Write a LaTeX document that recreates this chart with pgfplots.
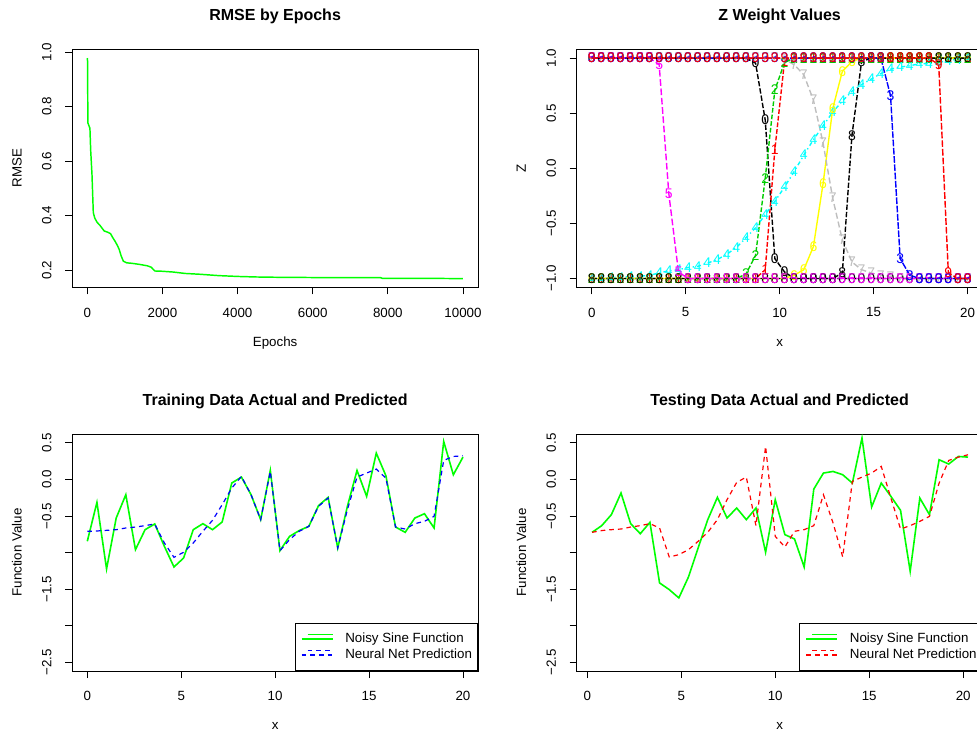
\documentclass[border=0pt]{standalone}
\usepackage{fontspec}
\setmainfont{Liberation Sans}
\usepackage{pgfplots}
\usepackage{pgfplotstable}
\pgfplotsset{compat=1.18}
\definecolor{rgreen}{HTML}{00FF00}
\definecolor{green3}{HTML}{00CD00}
\definecolor{rgray}{HTML}{BEBEBE}
\definecolor{rcyan}{HTML}{00FFFF}
\definecolor{rmag}{HTML}{FF00FF}
\definecolor{ryel}{HTML}{FFFF00}

\pgfplotstableread{
x z0 z1 z2 z3 z4 z5 z6 z7 z8 z9
0.0000 1 -1 -1 1 -1.00 1 -1 1 -1 1
0.5128 1 -1 -1 1 -1.00 1 -1 1 -1 1
1.0256 1 -1 -1 1 -0.99 1 -1 1 -1 1
1.5385 1 -1 -1 1 -0.99 1 -1 1 -1 1
2.0513 1 -1 -1 1 -0.98 1 -1 1 -1 1
2.5641 1 -1 -1 1 -0.98 1 -1 1 -1 1
3.0769 1 -1 -1 1 -0.97 1 -1 1 -1 1
3.5897 1 -1 -1 1 -0.95 0.94 -1 1 -1 1
4.1026 1 -1 -1 1 -0.93 -0.23 -1 1 -1 1
4.6154 1 -1 -1 1 -0.92 -0.94 -1 1 -1 1
5.1282 1 -1 -1 1 -0.90 -1 -1 1 -1 1
5.6410 1 -1 -1 1 -0.89 -1 -1 1 -1 1
6.1538 1 -1 -1 1 -0.86 -1 -1 1 -1 1
6.6667 1 -1 -1 1 -0.83 -1 -1 1 -1 1
7.1795 1 -1 -1 1 -0.78 -1 -1 1 -1 1
7.6923 1 -1 -1 1 -0.72 -1 -1 1 -1 1
8.2051 1 -1 -0.96 1 -0.63 -1 -1 1 -1 1
8.7179 0.955 -1 -0.79 1 -0.54 -1 -1 1 -1 1
9.2308 0.44 -0.92 -0.09 1 -0.42 -1 -1 1 -1 1
9.7436 -0.82 0.17 0.71 1 -0.30 -1 -1 1 -1 1
10.2564 -0.94 0.97 0.96 1 -0.17 -1 -1 0.99 -1 1
10.7692 -1 1 1 1 -0.03 -1 -0.97 0.94 -1 1
11.2821 -1 1 1 1 0.12 -1 -0.92 0.85 -1 1
11.7949 -1 1 1 1 0.26 -1 -0.71 0.62 -1 1
12.3077 -1 1 1 1 0.385 -1 -0.14 0.23 -1 1
12.8205 -1 1 1 1 0.51 -1 0.54 -0.27 -1 1
13.3333 -1 1 1 1 0.61 -1 0.88 -0.65 -0.95 1
13.8462 -1 1 1 1 0.70 -1 0.97 -0.85 0.30 1
14.3590 -1 1 1 1 0.76 -1 1 -0.92 0.97 1
14.8718 -1 1 1 1 0.81 -1 1 -0.95 1 1
15.3846 -1 1 1 1 0.86 -1 1 -0.97 1 1
15.8974 -1 1 1 0.66 0.90 -1 1 -0.98 1 1
16.4103 -1 1 1 -0.82 0.92 -1 1 -1 1 1
16.9231 -1 1 1 -0.97 0.93 -1 1 -1 1 1
17.4359 -1 1 1 -1 0.95 -1 1 -1 1 1
17.9487 -1 1 1 -1 0.95 -1 1 -1 1 1
18.4615 -1 1 1 -1 0.96 -1 1 -1 1 0.94
18.9744 -1 1 1 -1 0.98 -1 1 -1 1 -0.95
19.4872 -1 1 1 -1 0.99 -1 1 -1 1 -1
20.0000 -1 1 1 -1 1.00 -1 1 -1 1 -1
}\ztab

\pgfplotstableread{
x actual pred
0.0000 -0.847 -0.711
0.5128 -0.315 -0.706
1.0256 -1.225 -0.697
1.5385 -0.529 -0.688
2.0513 -0.210 -0.665
2.5641 -0.961 -0.652
3.0769 -0.688 -0.633
3.5897 -0.610 -0.610
4.1026 -0.915 -0.870
4.6154 -1.198 -1.066
5.1282 -1.075 -0.997
5.6410 -0.688 -0.870
6.1538 -0.606 -0.710
6.6667 -0.688 -0.560
7.1795 -0.583 -0.347
7.6923 -0.050 -0.119
8.2051 0.031 0.040
8.7179 -0.210 -0.210
9.2308 -0.551 -0.551
9.7436 0.122 0.108
10.2564 -0.975 -0.975
10.7692 -0.779 -0.824
11.2821 -0.700 -0.710
11.7949 -0.642 -0.642
12.3077 -0.360 -0.370
12.8205 -0.246 -0.256
13.3333 -0.938 -0.938
13.8462 -0.370 -0.415
14.3590 0.122 0.031
14.8718 -0.233 0.086
15.3846 0.359 0.140
15.8974 0.049 0.017
16.4103 -0.652 -0.652
16.9231 -0.724 -0.679
17.4359 -0.529 -0.606
17.9487 -0.470 -0.574
18.4615 -0.665 -0.506
18.9744 0.518 0.259
19.4872 0.063 0.313
20.0000 0.304 0.322
}\trainTab

\pgfplotstableread{
x actual pred
0.2564 -0.724 -0.724
0.7692 -0.633 -0.700
1.2821 -0.483 -0.688
1.7949 -0.187 -0.679
2.3077 -0.606 -0.652
2.8205 -0.743 -0.633
3.3333 -0.588 -0.606
3.8462 -1.416 -0.665
4.3590 -1.507 -1.061
4.8718 -1.621 -1.030
5.3846 -1.334 -0.961
5.8974 -0.938 -0.847
6.4103 -0.551 -0.724
6.9231 -0.246 -0.551
7.4359 -0.529 -0.278
7.9487 -0.392 -0.042
8.4615 -0.551 0.031
8.9744 -0.392 -0.633
9.4872 -0.997 0.450
10.0000 -0.278 -0.779
10.5128 -0.756 -0.925
11.0256 -0.815 -0.710
11.5385 -1.198 -0.688
12.0513 -0.133 -0.633
12.5641 0.086 -0.210
13.0769 0.108 -0.597
13.5897 0.063 -1.061
14.1026 -0.051 -0.028
14.6154 0.564 0.031
15.1282 -0.378 0.086
15.6410 -0.051 0.177
16.1538 -0.233 -0.256
16.6667 -0.424 -0.679
17.1795 -1.257 -0.633
17.6923 -0.256 -0.574
18.2051 -0.483 -0.506
18.7179 0.268 -0.051
19.2308 0.209 0.259
19.7436 0.313 0.304
20.2564 0.304 0.336
}\testTab

\pgfplotsset{
  rbase/.style={
    scale only axis,
    anchor=north west,
    tick align=outside,
    xtick pos=left,
    ytick pos=left,
    major tick length=5.25pt,
    tick style={black, line width=0.6pt},
    axis line style={black, line width=0.6pt},
    scaled x ticks=false, scaled y ticks=false,
    tick label style={font=\fontsize{10}{12}\selectfont},
    xticklabel shift=6.5pt,
    yticklabel shift=6.75pt,
    yticklabel style={rotate=90, anchor=south},
    label style={font=\fontsize{10}{12}\selectfont},
    title style={at={(axis description cs:0.5,1)}, anchor=center, yshift=18.4pt, font=\bfseries\fontsize{12}{14}\selectfont},
    xlabel style={at={(axis description cs:0.5,0)}, anchor=center, yshift=-41.5pt},
    ylabel style={at={(axis description cs:0,0.5)}, anchor=center, yshift=41.5pt},
  },
  zser/.style 2 args={#1, line width=1.05pt, mark=text, text mark={#2},
    text mark as node=true,
    text mark style={font=\fontsize{10.5}{11}\selectfont, inner sep=0pt}},
  rleg/.style={
    legend cell align=left,
    legend style={at={(axis description cs:1,0)}, anchor=south east, draw=black, line width=0.6pt,
      fill=white, font=\fontsize{10}{12}\selectfont, inner xsep=4.2pt, inner ysep=7pt,
      row sep=2.4pt, column sep=8.8pt,
      nodes={inner sep=0pt, text height=7.3pt, text depth=2.1pt}},
    legend image code/.code={\path (0pt,0pt) -- (23.35pt,0pt);
      \draw[##1] (4.6pt,3.6pt) -- (23.35pt,3.6pt);},
  },
}

\begin{document}
\begin{tikzpicture}
\path[use as bounding box] (0pt,0pt) rectangle (732.75pt,553.5pt);

% ---------- RMSE by Epochs ----------
\begin{axis}[rbase, at={(54.2pt,516.5pt)}, width=304.3pt, height=178.5pt,
  xmin=-400, xmax=10400, ymin=0.136, ymax=1.010,
  xtick={0,2000,4000,6000,8000,10000},
  xticklabels={0,2000,4000,6000,8000,10000},
  ytick={0.2,0.4,0.6,0.8,1.0},
  yticklabels={0.2,0.4,0.6,0.8,1.0},
  title={RMSE by Epochs}, xlabel={Epochs}, ylabel={RMSE}]
\addplot[rgreen, line width=1.1pt] coordinates {
(0,0.978) (8,0.965) (15,0.74) (70,0.72) (90,0.64) (125,0.55) (160,0.41) (200,0.39)
(260,0.375) (340,0.363) (400,0.352) (450,0.343) (550,0.338) (620,0.333) (680,0.318)
(740,0.305) (800,0.29) (850,0.275) (900,0.252) (960,0.232) (1050,0.226) (1200,0.224)
(1400,0.220) (1600,0.215) (1700,0.21) (1800,0.196) (2000,0.195) (2300,0.192)
(2600,0.187) (3000,0.184) (3500,0.179) (4000,0.176) (4500,0.174) (5000,0.173)
(6000,0.172) (7000,0.172) (7800,0.172) (7850,0.169) (9000,0.169) (9999,0.168)};
\end{axis}

% ---------- Z Weight Values ----------
\begin{axis}[rbase, at={(432.5pt,516.5pt)}, width=304.5pt, height=178.5pt,
  xmin=-0.8, xmax=20.8, ymin=-1.08, ymax=1.08,
  xtick={0,5,10,15,20}, xticklabels={0,5,10,15,20},
  ytick={-1,-0.5,0,0.5,1},
  yticklabels={−1.0,−0.5,0.0,0.5,1.0},
  title={Z Weight Values}, xlabel={x}, ylabel={Z}]
\addplot[zser={black, dash pattern=on 4pt off 1.5pt}{0}] table[x=x,y=z0] {\ztab};
\addplot[zser={red, dash pattern=on 3.5pt off 1.5pt}{1}] table[x=x,y=z1] {\ztab};
\addplot[zser={green3, dash pattern=on 3.5pt off 1.5pt}{2}] table[x=x,y=z2] {\ztab};
\addplot[zser={rcyan, dash pattern=on 1pt off 2.25pt on 3pt off 2.25pt}{4}] table[x=x,y=z4] {\ztab};
\addplot[zser={ryel}{6}] table[x=x,y=z6] {\ztab};
\addplot[zser={rgray, dash pattern=on 4.5pt off 2.25pt}{7}] table[x=x,y=z7] {\ztab};
\addplot[zser={black, dash pattern=on 4pt off 1.5pt}{8}] table[x=x,y=z8] {\ztab};
\addplot[zser={rmag, dash pattern=on 5pt off 2pt}{5}] table[x=x,y=z5] {\ztab};
\addplot[zser={blue, dash pattern=on 5pt off 1.2pt}{3}] table[x=x,y=z3] {\ztab};
\addplot[zser={red, dash pattern=on 5pt off 1.5pt}{9}] table[x=x,y=z9] {\ztab};
\end{axis}

% ---------- Training ----------
\begin{axis}[rbase, rleg, at={(54.2pt,228pt)}, width=304.3pt, height=177.75pt,
  xmin=-0.8, xmax=20.8, ymin=-2.62, ymax=0.62,
  xtick={0,5,10,15,20}, xticklabels={0,5,10,15,20},
  ytick={-2.5,-2,-1.5,-1,-0.5,0,0.5},
  yticklabels={−2.5,,−1.5,,−0.5,0.0,0.5},
  title={Training Data Actual and Predicted}, xlabel={x}, ylabel={Function Value}]
\addplot[rgreen, line width=1.2pt] table[x=x,y=actual] {\trainTab};
\addlegendentry{Noisy Sine Function}
\addplot[blue, line width=0.9pt, dash pattern=on 3.5pt off 3pt] table[x=x,y=pred] {\trainTab};
\addlegendentry{Neural Net Prediction}
\end{axis}

% ---------- Testing ----------
\begin{axis}[rbase, rleg, at={(432.5pt,228pt)}, width=304.5pt, height=177.75pt,
  xmin=-0.564, xmax=21.036, ymin=-2.62, ymax=0.62,
  xtick={0,5,10,15,20}, xticklabels={0,5,10,15,20},
  ytick={-2.5,-2,-1.5,-1,-0.5,0,0.5},
  yticklabels={−2.5,,−1.5,,−0.5,0.0,0.5},
  title={Testing Data Actual and Predicted}, xlabel={x}, ylabel={Function Value}]
\addplot[rgreen, line width=1.2pt] table[x=x,y=actual] {\testTab};
\addlegendentry{Noisy Sine Function}
\addplot[red, line width=0.9pt, dash pattern=on 3.5pt off 3pt] table[x=x,y=pred] {\testTab};
\addlegendentry{Neural Net Prediction}
\end{axis}
\end{tikzpicture}
\end{document}
